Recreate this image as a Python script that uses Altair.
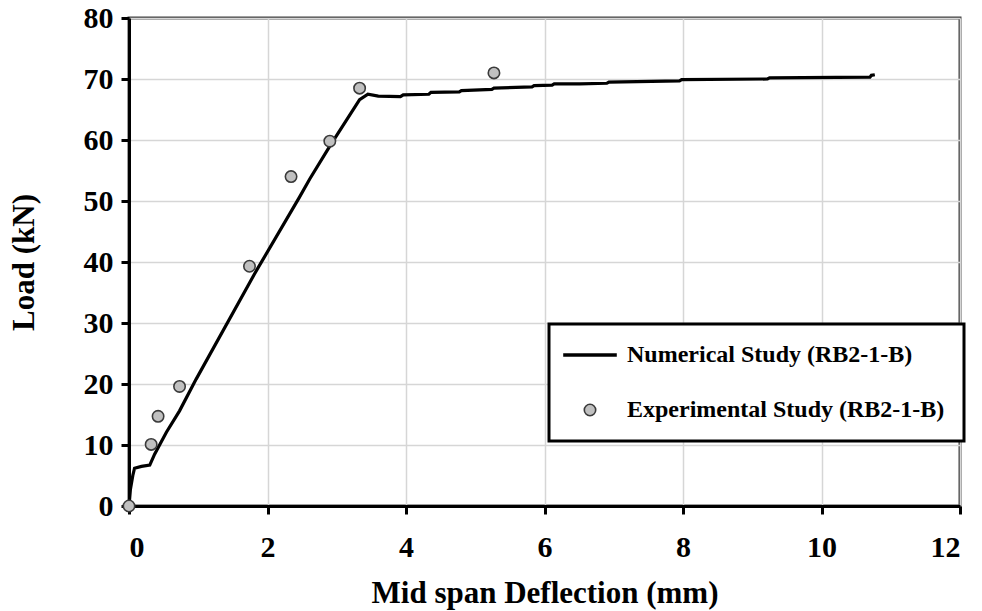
import altair as alt
import pandas as pd

NUM = "Numerical Study (RB2-1-B)"
EXP = "Experimental Study (RB2-1-B)"

# Numerical curve (mid-span deflection in mm, load in kN)
line_x = [0, 0.02, 0.055, 0.08, 0.18, 0.30, 0.37, 0.54, 0.73, 0.97,
          1.81, 2.46, 2.61, 2.90, 3.33, 3.45, 3.60, 3.92, 3.96, 4.33,
          4.36, 4.77, 4.80, 5.24, 5.27, 5.82, 5.85, 6.11, 6.14, 6.51,
          6.90, 6.93, 7.95, 7.98, 9.22, 9.25, 10.70, 10.72, 10.77]
line_y = [0, 2.7, 5.0, 6.2, 6.5, 6.7, 8.5, 12.1, 15.6, 20.8,
          38.0, 50.6, 53.6, 59.0, 66.6, 67.5, 67.2, 67.1, 67.4, 67.5,
          67.8, 67.9, 68.1, 68.3, 68.5, 68.7, 68.9, 69.0, 69.2, 69.2,
          69.3, 69.5, 69.7, 69.9, 70.0, 70.2, 70.3, 70.6, 70.7]

# Experimental points
exp_x = [0, 0.32, 0.42, 0.73, 1.74, 2.34, 2.90, 3.33, 5.27]
exp_y = [0, 10.1, 14.7, 19.6, 39.3, 54.0, 59.8, 68.5, 71.0]

x_ticks = [0, 2, 4, 6, 8, 10, 12]
y_ticks = [0, 10, 20, 30, 40, 50, 60, 70, 80]

line_df = pd.DataFrame({"x": line_x, "y": line_y, "i": list(range(len(line_x)))})
pts_df = pd.DataFrame({"x": exp_x, "y": exp_y, "series": [EXP] * len(exp_x)})

FONT = "Liberation Serif"
dom = [NUM, EXP]
LINE_SYMBOL = "M-4.7,0L4.7,0"

xenc = alt.X("x:Q", scale=alt.Scale(domain=[0, 12], nice=False),
             axis=alt.Axis(values=x_ticks, title="Mid span Deflection (mm)",
                           labelPadding=18, titlePadding=16))
yenc = alt.Y("y:Q", scale=alt.Scale(domain=[0, 80], nice=False),
             axis=alt.Axis(values=y_ticks, title="Load (kN)",
                           labelPadding=8, titlePadding=43))

line = alt.Chart(line_df).mark_line(color="black", strokeWidth=3.2).encode(
    x=xenc, y=yenc, order="i:Q"
)

legend = alt.Legend(
    title=None, orient="none", legendX=420, legendY=306,
    symbolOffset=10, labelOffset=25, labelLimit=500, symbolSize=130,
    labelFont=FONT, labelFontSize=24, labelFontWeight="bold", labelColor="black",
)

points = alt.Chart(pts_df).mark_point(filled=True, opacity=1, size=130).encode(
    x=xenc, y=yenc,
    shape=alt.Shape("series:N", scale=alt.Scale(domain=dom, range=[LINE_SYMBOL, "circle"]), legend=legend),
    fill=alt.Fill("series:N", scale=alt.Scale(domain=dom, range=["black", "#c0c0c0"]), legend=legend),
    stroke=alt.Stroke("series:N", scale=alt.Scale(domain=dom, range=["black", "#3a3a3a"]), legend=legend),
    strokeWidth=alt.StrokeWidth("series:N", scale=alt.Scale(type="ordinal", domain=dom, range=[3.5, 1.6]), legend=legend),
)

chart = alt.layer(line, points).properties(
    width=831, height=488,
    autosize="none",
    padding={"left": 121, "top": 10, "right": 14, "bottom": 105},
).configure_view(
    stroke="#404040", strokeWidth=3
).configure_axis(
    labelFont=FONT, labelFontSize=30, labelFontWeight="bold", labelColor="black",
    titleFont=FONT, titleFontSize=31, titleFontWeight="bold", titleColor="black",
    domainColor="black", domainWidth=3,
    tickColor="black", tickWidth=3, tickSize=8,
    gridColor="#d6d6d6", gridWidth=1.5,
).configure_legend(
    strokeColor="black", strokeWidth=3, fillColor="white",
    padding=19, rowPadding=31,
)

chart.save("out.html", embed_options={"renderer": "svg", "actions": False})
